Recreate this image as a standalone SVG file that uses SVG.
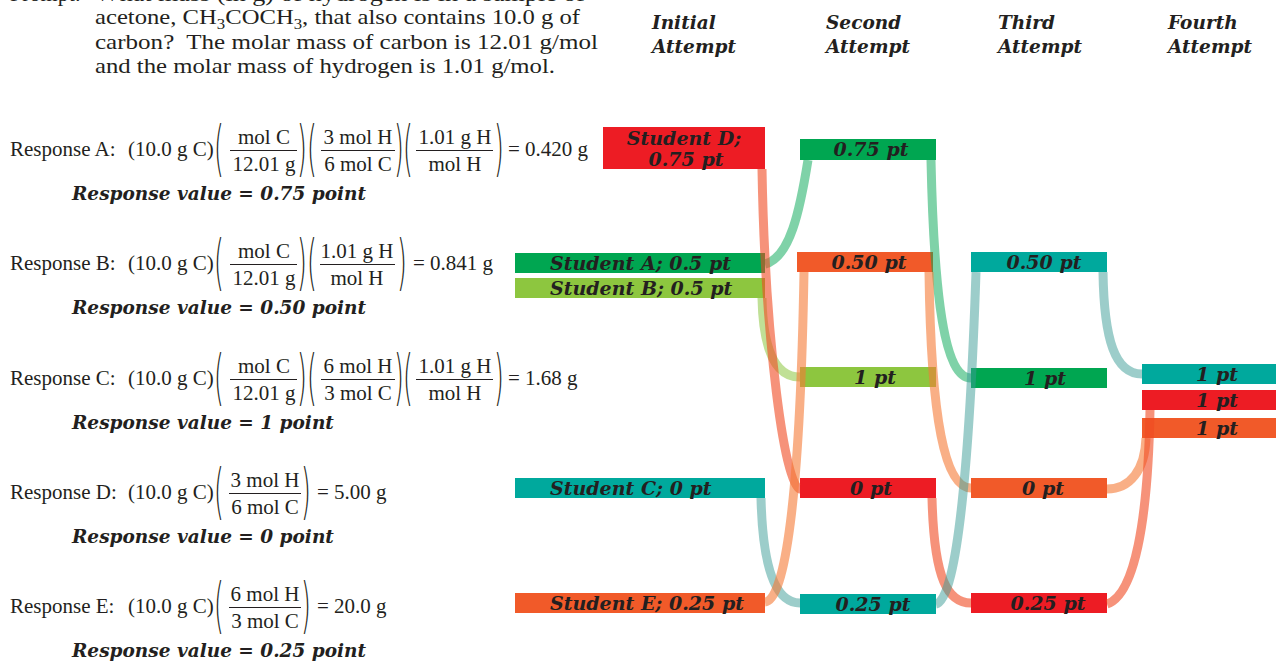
<svg xmlns="http://www.w3.org/2000/svg" width="1276" height="662" viewBox="0 0 1276 662">
<style>
.q{font-family:"Liberation Serif",serif;font-size:22px;fill:#231f20}
.f{font-family:"Liberation Serif",serif;font-size:21px;fill:#231f20}
.fm{font-family:"Liberation Serif",serif;font-size:21px;fill:#231f20;text-anchor:middle}
.p{font-family:"DejaVu Sans",sans-serif;font-weight:200;font-size:24px;fill:#231f20}
.rv{font-family:"DejaVu Serif",serif;font-size:18.5px;font-weight:bold;font-style:italic;fill:#231f20}
.hd{font-family:"DejaVu Serif",serif;font-size:18.5px;font-weight:bold;font-style:italic;fill:#231f20}
.lb{font-family:"DejaVu Serif",serif;font-size:19px;font-weight:bold;font-style:italic;fill:#231f20;text-anchor:middle}
.ls{font-family:"DejaVu Serif",serif;font-size:19px;font-weight:bold;font-style:italic;fill:#231f20}
.fb{stroke:#231f20;stroke-width:1.1}
.red{fill:#ed1c24}.grn{fill:#00a651}.lgr{fill:#8dc63f}.tea{fill:#00a99d}.orn{fill:#f15a29}
.flow{fill:none;stroke-width:9;stroke-linecap:butt}
.fr{stroke:#f04a22;stroke-opacity:.6}
.fo{stroke:#f57a35;stroke-opacity:.6}
.fg{stroke:#00a651;stroke-opacity:.5}
.fl{stroke:#8dc63f;stroke-opacity:.55}
.ft{stroke:#3a9c96;stroke-opacity:.5}
</style>

<g id="question">
<text class="q" x="10" y="1">Prompt:</text>
<text class="q" x="95" y="1" textLength="490" lengthAdjust="spacingAndGlyphs">What mass (in g) of hydrogen is in a sample of</text>
<text class="q" x="95" y="24" textLength="485" lengthAdjust="spacingAndGlyphs">acetone, CH<tspan dy="5" font-size="15">3</tspan><tspan dy="-5">COCH</tspan><tspan dy="5" font-size="15">3</tspan><tspan dy="-5">, that also contains 10.0 g of</tspan></text>
<text class="q" x="95" y="49" textLength="503" lengthAdjust="spacingAndGlyphs">carbon?&#160; The molar mass of carbon is 12.01 g/mol</text>
<text class="q" x="95" y="73" textLength="460" lengthAdjust="spacingAndGlyphs">and the molar mass of hydrogen is 1.01 g/mol.</text>
</g>

<g id="headers">
<text class="hd" x="652" y="29">Initial</text><text class="hd" x="652" y="53">Attempt</text>
<text class="hd" x="826" y="29">Second</text><text class="hd" x="826" y="53">Attempt</text>
<text class="hd" x="998" y="29">Third</text><text class="hd" x="998" y="53">Attempt</text>
<text class="hd" x="1168" y="29">Fourth</text><text class="hd" x="1168" y="53">Attempt</text>
</g>

<g id="responseA">
<text class="f" x="10" y="156">Response A:</text>
<text class="f" x="128" y="156">(10.0 g C)</text>
<text class="p" transform="translate(214,169) scale(1.05,2.5)">(</text>
<text class="fm" x="264" y="144">mol C</text><line class="fb" x1="230" y1="150.5" x2="297" y2="150.5"/><text class="fm" x="264" y="171">12.01 g</text>
<text class="p" transform="translate(297,169) scale(1.05,2.5)">)</text>
<text class="p" transform="translate(307,169) scale(1.05,2.5)">(</text>
<text class="fm" x="358" y="144">3 mol H</text><line class="fb" x1="321" y1="150.5" x2="395" y2="150.5"/><text class="fm" x="358" y="171">6 mol C</text>
<text class="p" transform="translate(394,169) scale(1.05,2.5)">)</text>
<text class="p" transform="translate(403,169) scale(1.05,2.5)">(</text>
<text class="fm" x="455" y="144">1.01 g H</text><line class="fb" x1="416" y1="150.5" x2="493" y2="150.5"/><text class="fm" x="455" y="171">mol H</text>
<text class="p" transform="translate(494,169) scale(1.05,2.5)">)</text>
<text class="f" x="508" y="156">= 0.420 g</text>
<text class="rv" x="72" y="200">Response value = 0.75 point</text>
</g>

<g id="responseB">
<text class="f" x="10" y="270">Response B:</text>
<text class="f" x="128" y="270">(10.0 g C)</text>
<text class="p" transform="translate(214,283) scale(1.05,2.5)">(</text>
<text class="fm" x="264" y="258">mol C</text><line class="fb" x1="230" y1="264.5" x2="297" y2="264.5"/><text class="fm" x="264" y="285">12.01 g</text>
<text class="p" transform="translate(297,283) scale(1.05,2.5)">)</text>
<text class="p" transform="translate(307,283) scale(1.05,2.5)">(</text>
<text class="fm" x="357" y="258">1.01 g H</text><line class="fb" x1="320" y1="264.5" x2="395" y2="264.5"/><text class="fm" x="357" y="285">mol H</text>
<text class="p" transform="translate(397,283) scale(1.05,2.5)">)</text>
<text class="f" x="413" y="270">= 0.841 g</text>
<text class="rv" x="72" y="314">Response value = 0.50 point</text>
</g>

<g id="responseC">
<text class="f" x="10" y="385">Response C:</text>
<text class="f" x="128" y="385">(10.0 g C)</text>
<text class="p" transform="translate(214,398) scale(1.05,2.5)">(</text>
<text class="fm" x="264" y="373">mol C</text><line class="fb" x1="230" y1="379.5" x2="297" y2="379.5"/><text class="fm" x="264" y="400">12.01 g</text>
<text class="p" transform="translate(297,398) scale(1.05,2.5)">)</text>
<text class="p" transform="translate(307,398) scale(1.05,2.5)">(</text>
<text class="fm" x="358" y="373">6 mol H</text><line class="fb" x1="321" y1="379.5" x2="395" y2="379.5"/><text class="fm" x="358" y="400">3 mol C</text>
<text class="p" transform="translate(394,398) scale(1.05,2.5)">)</text>
<text class="p" transform="translate(403,398) scale(1.05,2.5)">(</text>
<text class="fm" x="455" y="373">1.01 g H</text><line class="fb" x1="416" y1="379.5" x2="493" y2="379.5"/><text class="fm" x="455" y="400">mol H</text>
<text class="p" transform="translate(494,398) scale(1.05,2.5)">)</text>
<text class="f" x="508" y="385">= 1.68 g</text>
<text class="rv" x="72" y="429">Response value = 1 point</text>
</g>

<g id="responseD">
<text class="f" x="10" y="499">Response D:</text>
<text class="f" x="128" y="499">(10.0 g C)</text>
<text class="p" transform="translate(214,512) scale(1.05,2.5)">(</text>
<text class="fm" x="265" y="487">3 mol H</text><line class="fb" x1="229" y1="493.5" x2="301" y2="493.5"/><text class="fm" x="265" y="514">6 mol C</text>
<text class="p" transform="translate(301,512) scale(1.05,2.5)">)</text>
<text class="f" x="317" y="499">= 5.00 g</text>
<text class="rv" x="72" y="543">Response value = 0 point</text>
</g>

<g id="responseE">
<text class="f" x="10" y="613">Response E:</text>
<text class="f" x="128" y="613">(10.0 g C)</text>
<text class="p" transform="translate(214,626) scale(1.05,2.5)">(</text>
<text class="fm" x="265" y="601">6 mol H</text><line class="fb" x1="229" y1="607.5" x2="301" y2="607.5"/><text class="fm" x="265" y="628">3 mol C</text>
<text class="p" transform="translate(301,626) scale(1.05,2.5)">)</text>
<text class="f" x="317" y="613">= 20.0 g</text>
<text class="rv" x="72" y="657">Response value = 0.25 point</text>
</g>

<g id="initial-D"><rect class="red" x="603" y="127" width="162" height="42"/><text class="lb" x="684" y="145">Student D;</text><text class="lb" x="686" y="166">0.75 pt</text></g>
<g id="initial-A"><rect class="grn" x="515" y="253" width="250" height="20"/><text class="ls" x="550" y="270">Student A; 0.5 pt</text></g>
<g id="initial-B"><rect class="lgr" x="515" y="278" width="250" height="20"/><text class="ls" x="550" y="295">Student B; 0.5 pt</text></g>
<g id="initial-C"><rect class="tea" x="515" y="478" width="250" height="20"/><text class="ls" x="550" y="495">Student C; 0 pt</text></g>
<g id="initial-E"><rect class="orn" x="515" y="593" width="250" height="20"/><text class="ls" x="550" y="610">Student E; 0.25 pt</text></g>

<g id="second-075"><rect class="grn" x="800" y="139" width="136" height="21"/><text class="lb" x="871" y="156">0.75 pt</text></g>
<g id="second-050"><rect class="orn" x="797" y="252" width="136" height="20"/><text class="lb" x="869" y="269">0.50 pt</text></g>
<g id="second-1"><rect class="lgr" x="800" y="367" width="136" height="20"/><text class="lb" x="875" y="384">1 pt</text></g>
<g id="second-0"><rect class="red" x="800" y="478" width="136" height="20"/><text class="lb" x="871" y="495">0 pt</text></g>
<g id="second-025"><rect class="tea" x="800" y="594" width="136" height="20"/><text class="lb" x="873" y="611">0.25 pt</text></g>

<g id="third-050"><rect class="tea" x="971" y="252" width="136" height="20"/><text class="lb" x="1044" y="269">0.50 pt</text></g>
<g id="third-1"><rect class="grn" x="971" y="368" width="136" height="20"/><text class="lb" x="1045" y="385">1 pt</text></g>
<g id="third-0"><rect class="orn" x="971" y="478" width="136" height="20"/><text class="lb" x="1043" y="495">0 pt</text></g>
<g id="third-025"><rect class="red" x="971" y="593" width="136" height="20"/><text class="lb" x="1048" y="610">0.25 pt</text></g>

<g id="fourth-teal"><rect class="tea" x="1142" y="364" width="150" height="20"/><text class="lb" x="1217" y="381">1 pt</text></g>
<g id="fourth-red"><rect class="red" x="1142" y="390" width="150" height="20"/><text class="lb" x="1217" y="407">1 pt</text></g>
<g id="fourth-orange"><rect class="orn" x="1142" y="418" width="150" height="20"/><text class="lb" x="1217" y="435">1 pt</text></g>

<g id="connectors">
<path class="flow fg" d="M765,264 C790,258 800,210 808,160"/>
<path class="flow fl" d="M762,298 C763,350 775,377 800,377"/>
<path class="flow fr" d="M762,169 C765,340 785,489 800,489"/>
<path class="flow ft" d="M761,498 C763,580 780,603 800,603"/>
<path class="flow fo" d="M765,602 C785,600 800,500 804,272"/>
<path class="flow fg" d="M931,160 C934,300 945,378 971,378"/>
<path class="flow fo" d="M929,272 C931,420 945,488 971,488"/>
<path class="flow fr" d="M932,498 C934,580 948,603 971,603"/>
<path class="flow ft" d="M936,604 C958,600 970,450 976,272"/>
<path class="flow ft" d="M1103,272 C1104,340 1115,374 1142,374"/>
<path class="flow fo" d="M1107,489 C1130,489 1145,470 1146,438"/>
<path class="flow fr" d="M1107,604 C1135,595 1148,520 1150,410"/>
</g>
</svg>
